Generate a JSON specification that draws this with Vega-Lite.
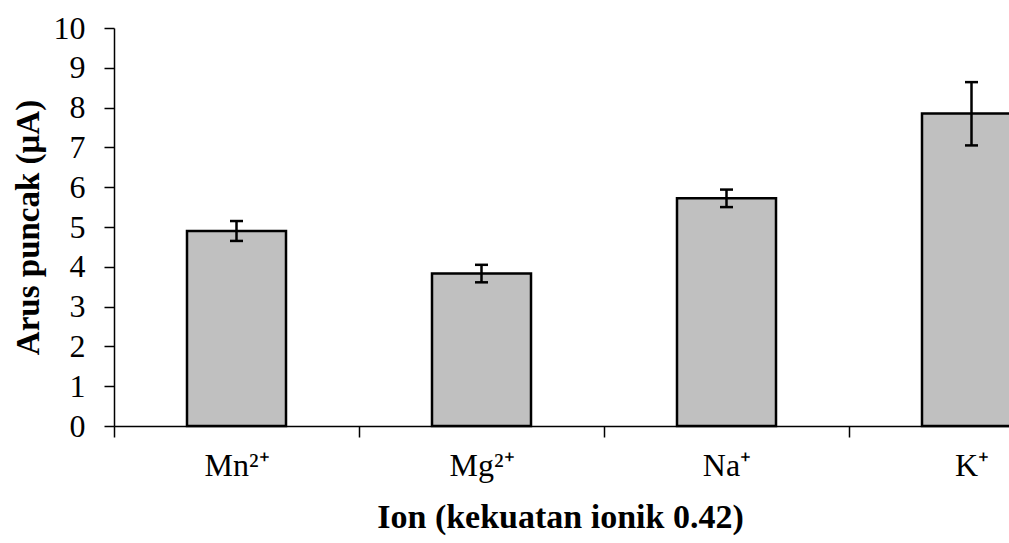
{
  "$schema": "https://vega.github.io/schema/vega-lite/v6.json",
  "autosize": {"type": "none"},
  "width": 980,
  "height": 398,
  "padding": {"left": 114, "top": 28, "right": 0, "bottom": 117},
  "background": "white",
  "config": {
    "view": {"stroke": null},
    "font": "Liberation Serif",
    "axis": {"labelFont": "Liberation Serif", "titleFont": "Liberation Serif", "labelColor": "black", "titleColor": "black", "domainColor": "black", "tickColor": "black", "grid": false, "domainWidth": 1.5, "tickWidth": 1.5},
    "axisX": {
      "titleFontSize": 34,
      "titleFontWeight": "bold",
      "titleX": 446,
      "titlePadding": 19,
      "labelAngle": 0,
      "labelFontSize": 32,
      "labelPadding": 13,
      "tickBand": "extent",
      "tickSize": 11
    },
    "axisY": {
      "titleFontSize": 33,
      "titleFontWeight": "bold",
      "titlePadding": 8,
      "values": [0, 1, 2, 3, 4, 5, 6, 7, 8, 9, 10],
      "labelOverlap": false,
      "labelFontSize": 32,
      "labelPadding": 19,
      "tickSize": 10
    }
  },
  "data": {
    "values": [
      {"ion": "Mn²⁺", "arus": 4.9, "lo": 4.65, "hi": 5.15},
      {"ion": "Mg²⁺", "arus": 3.83, "lo": 3.61, "hi": 4.05},
      {"ion": "Na⁺", "arus": 5.72, "lo": 5.5, "hi": 5.94},
      {"ion": "K⁺", "arus": 7.85, "lo": 7.05, "hi": 8.64}
    ]
  },
  "encoding": {
    "x": {
      "field": "ion",
      "type": "nominal",
      "sort": null,
      "scale": {"paddingInner": 0, "paddingOuter": 0},
      "title": "Ion (kekuatan ionik 0.42)"
    }
  },
  "layer": [
    {
      "mark": {"type": "bar", "size": 99, "fill": "#c0c0c0", "stroke": "black", "strokeWidth": 2.5},
      "encoding": {
        "y": {
          "field": "arus",
          "type": "quantitative",
          "scale": {"domain": [0, 10], "nice": false},
          "title": "Arus puncak (μA)"
        }
      }
    },
    {
      "mark": {"type": "rule", "stroke": "black", "strokeWidth": 2.5},
      "encoding": {
        "y": {"field": "lo", "type": "quantitative", "title": "Arus puncak (μA)"},
        "y2": {"field": "hi"}
      }
    },
    {
      "mark": {"type": "tick", "orient": "horizontal", "size": 13, "thickness": 2.5, "color": "black", "opacity": 1},
      "encoding": {"y": {"field": "lo", "type": "quantitative", "title": "Arus puncak (μA)"}}
    },
    {
      "mark": {"type": "tick", "orient": "horizontal", "size": 13, "thickness": 2.5, "color": "black", "opacity": 1},
      "encoding": {"y": {"field": "hi", "type": "quantitative", "title": "Arus puncak (μA)"}}
    }
  ]
}
